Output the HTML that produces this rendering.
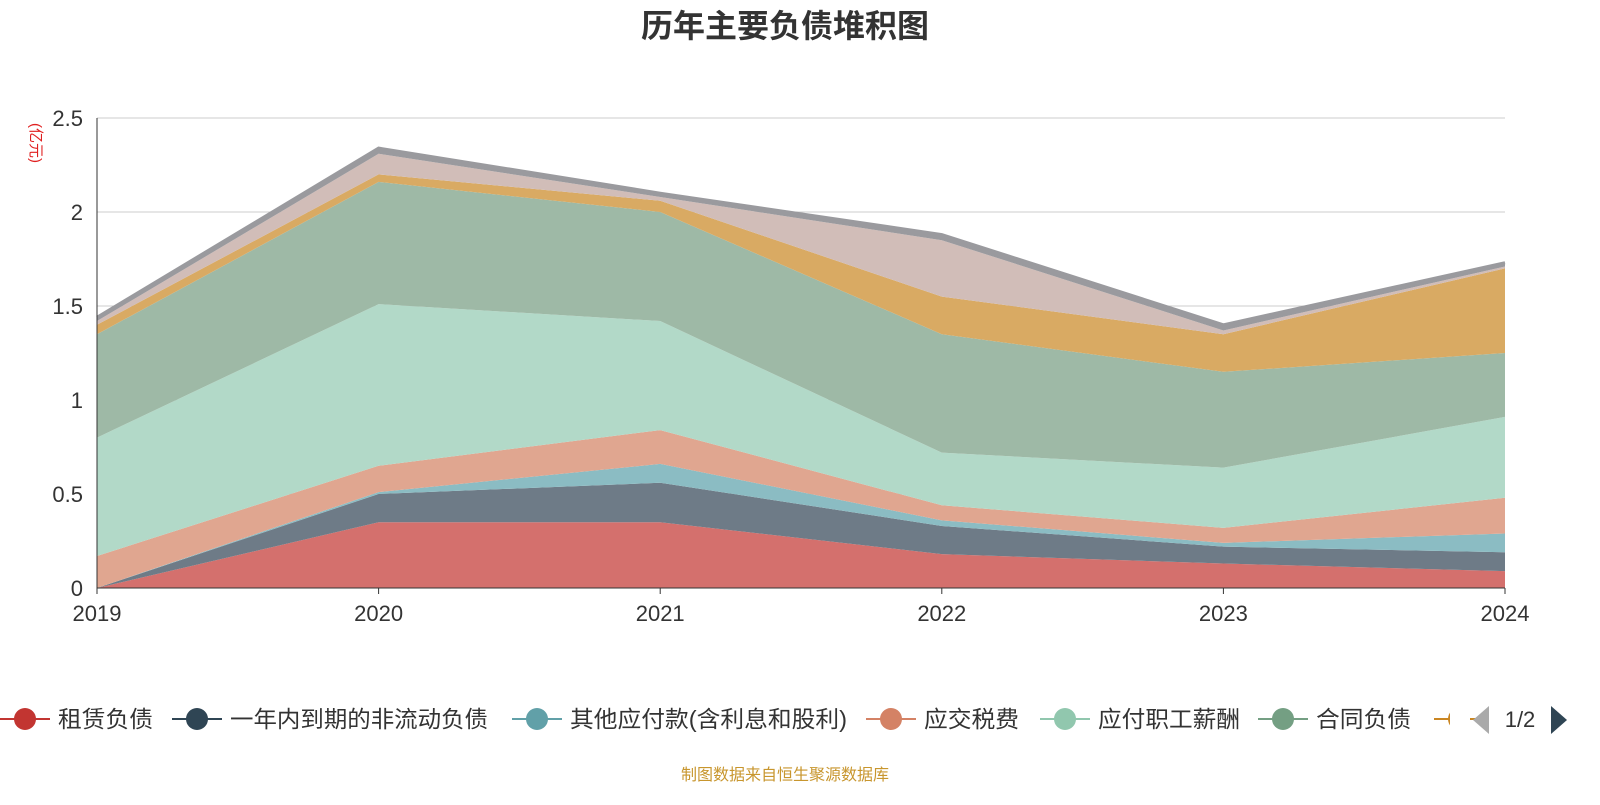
<!DOCTYPE html>
<html><head><meta charset="utf-8"><style>
body{margin:0;background:#fff;font-family:"Liberation Sans","Noto Sans CJK SC",sans-serif;}
svg text{font-family:"Liberation Sans","Noto Sans CJK SC",sans-serif;}
</style></head><body>
<svg id="c" width="1600" height="800">
<text x="785" y="37" font-size="32" font-weight="bold" fill="#333" text-anchor="middle">历年主要负债堆积图</text>
<text transform="translate(31,143) rotate(90)" font-size="15" fill="#e02020" text-anchor="middle">(亿元)</text>
<g id="grid"></g><g id="areas"></g><g id="axes"></g><g id="legend"></g>
<text x="785" y="780" font-size="16" fill="#c8962e" text-anchor="middle">制图数据来自恒生聚源数据库</text>
</svg>
<script>
const years=["2019","2020","2021","2022","2023","2024"];
const yTicks=[0,0.5,1,1.5,2,2.5];
const names=["租赁负债","一年内到期的非流动负债","其他应付款(含利息和股利)","应交税费","应付职工薪酬","合同负债","预收款项","其他流动负债","其他"];
const s0=[0,0.35,0.35,0.18,0.13,0.09];
const s1=[0,0.15,0.21,0.15,0.09,0.10];
const s2=[0,0.01,0.10,0.03,0.02,0.10];
const s3=[0.17,0.14,0.18,0.08,0.08,0.19];
const s4=[0.63,0.86,0.58,0.28,0.32,0.43];
const s5=[0.55,0.65,0.58,0.63,0.51,0.34];
const s6=[0.05,0.04,0.06,0.20,0.20,0.45];
const s7=[0.02,0.11,0.02,0.30,0.02,0.01];
const s8=[0.02,0.03,0.02,0.03,0.03,0.02];
const series=[s0,s1,s2,s3,s4,s5,s6,s7,s8];
const fills=["#d4706d","#6e7b87","#8bbcc3","#e0a690","#b2d9c8","#9eb9a6","#d9aa63","#d1bdb8","#9a9a9e"];
const legCol=["#c23531","#2f4554","#61a0a8","#d48265","#91c7ae","#749f83","#ca8622"];
const NS="http://www.w3.org/2000/svg";
const X0=97,X1=1505,Y0=588,Y1=118;
const xs=i=>X0+(X1-X0)*i/(years.length-1);
const ys=v=>Y0-(Y0-Y1)*v/2.5;
function mk(t,a,p){const e=document.createElementNS(NS,t);for(const k in a)e.setAttribute(k,a[k]);p.appendChild(e);return e;}
const grid=document.getElementById('grid'),axes=document.getElementById('axes'),areas=document.getElementById('areas'),leg=document.getElementById('legend');
yTicks.forEach(t=>{
 if(t>0){const l=mk('line',{x1:X0,x2:X1,y1:ys(t),y2:ys(t),stroke:'#ccc'},grid);
 
 }
 const tx=mk('text',{x:X0-14,y:ys(t)+8,'font-size':22,fill:'#333','text-anchor':'end'},axes);tx.textContent=t;
 
 
});
let base=years.map(()=>0);
series.forEach((s,k)=>{
 const top=base.map((b,i)=>b+s[i]);
 let d='M'+years.map((_,i)=>xs(i)+','+ys(top[i])).join('L');
 for(let i=years.length-1;i>=0;i--)d+='L'+xs(i)+','+ys(base[i]);
 const p=mk('path',{d:d+'Z',fill:fills[k]},areas);
 
 
 if(k==8){const l=mk('polyline',{points:years.map((_,i)=>xs(i)+','+ys(top[i])).join(' '),fill:'none',stroke:'#9a9a9e','stroke-width':3},areas);
 
 }
 base=top;
});
mk('line',{x1:X0,x2:X0,y1:Y1,y2:Y0,stroke:'#333'},axes);
mk('line',{x1:X0,x2:X1,y1:Y0,y2:Y0,stroke:'#333'},axes);
years.forEach((y,i)=>{
 mk('line',{x1:xs(i),x2:xs(i),y1:Y0,y2:Y0+6,stroke:'#333'},axes);
 const t=mk('text',{x:xs(i),y:621,'font-size':22,fill:'#333','text-anchor':'middle'},axes);t.textContent=y;
 
 
});
const lx=[0,172,512,866,1040,1258,1434];
for(let k=0;k<7;k++){
 const g=mk('g',{},leg);
 
 
 mk('line',{x1:lx[k],x2:lx[k]+50,y1:719,y2:719,stroke:legCol[k],'stroke-width':2},g);
 mk('circle',{cx:lx[k]+25,cy:719,r:11,fill:legCol[k]},g);
 if(k<6){const t=mk('text',{x:lx[k]+58,y:727,'font-size':23,fill:'#333',textLength:[95,258,277,95,142,95][k],lengthAdjust:'spacingAndGlyphs'},g);t.textContent=names[k];}
}
mk('rect',{x:1450,y:700,width:20,height:40,fill:'#fff'},leg);
const pa=mk('path',{d:'M1489,706L1473,720L1489,734Z',fill:'#aaa'},leg);


const pt=mk('text',{x:1520,y:727,'font-size':22,fill:'#333','text-anchor':'middle'},leg);pt.textContent='1/2';


const pn=mk('path',{d:'M1551,706L1567,720L1551,734Z',fill:'#2f4554'},leg);


</script>
</body></html>
